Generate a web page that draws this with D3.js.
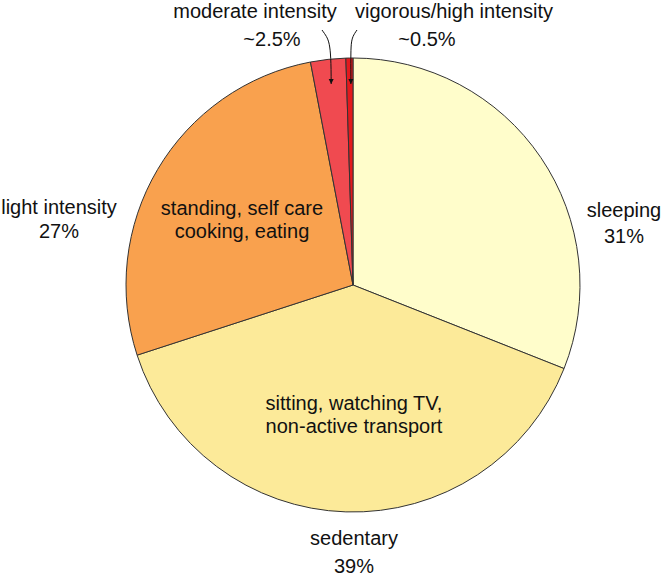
<!DOCTYPE html>
<html>
<head>
<meta charset="utf-8">
<script src="https://cdn.jsdelivr.net/npm/d3@7"></script>
<style>
  body { margin: 0; background: #fff; }
  text { font-family: "Liberation Sans", Arial, sans-serif; font-size: 20px; fill: #111; }
</style>
</head>
<body>
<svg id="chart"></svg>
<script>
(function () {
var categories = ['sleeping', 'sedentary', 'light intensity', 'moderate intensity', 'vigorous/high intensity']
var shares = [31, 39, 27, 2.5, 0.5]
var shareLabels = ['31%', '39%', '27%', '~2.5%', '~0.5%']
var colors = ['#fffdcb', '#fcea99', '#f9a14e', '#f04a50', '#e3191d']
var activities = [
    null,
    ['sitting, watching TV,', 'non-active transport'],
    ['standing, self care', 'cooking, eating'],
    null,
    null
]

var width = 663, height = 580
var cx = 353, cy = 285, r = 227

var svg = d3.select('#chart')
    .attr('width', width)
    .attr('height', height)

var pie = d3.pie().sort(null).value(d => d)
var arcs = pie(shares)
var arc = d3.arc().innerRadius(0).outerRadius(r)

var g = svg.append('g').attr('transform', 'translate(' + cx + ',' + cy + ')')

g.selectAll('path')
    .data(arcs)
    .enter()
    .append('path')
    .attr('d', arc)
    .attr('fill', (d, i) => colors[i])
    .attr('stroke', '#333')
    .attr('stroke-width', 1)

// outer labels, name on first line and share below
var outer = [
    {i: 0, x: 624, y: 217, y2: 243},
    {i: 1, x: 354, y: 545, y2: 573},
    {i: 2, x: 59, y: 214, y2: 238},
    {i: 3, x: 255, y: 18, y2: 46, x2: 272},
    {i: 4, x: 454, y: 18, y2: 46, x2: 427}
]
outer.forEach(function (o) {
    svg.append('text')
        .attr('x', o.x).attr('y', o.y)
        .attr('text-anchor', 'middle')
        .text(categories[o.i])
    svg.append('text')
        .attr('x', o.x2 || o.x).attr('y', o.y2)
        .attr('text-anchor', 'middle')
        .text(shareLabels[o.i])
})

// activity text inside the slices
var inner = [
    {i: 1, x: 354, y: 410},
    {i: 2, x: 242, y: 215}
]
inner.forEach(function (o) {
    activities[o.i].forEach(function (line, k) {
        svg.append('text')
            .attr('x', o.x).attr('y', o.y + k * 23)
            .attr('text-anchor', 'middle')
            .text(line)
    })
})

// arrows to the two thin slices
svg.append('defs').append('marker')
    .attr('id', 'head')
    .attr('viewBox', '0 0 10 10')
    .attr('refX', 10).attr('refY', 5)
    .attr('markerWidth', 5).attr('markerHeight', 7)
    .attr('markerUnits', 'userSpaceOnUse')
    .attr('orient', 'auto')
    .append('path')
    .attr('d', 'M0,0 L10,5 L0,10 z')
    .attr('fill', '#111')

var midAngle = d => (d.startAngle + d.endAngle) / 2
var arrows = [
    {i: 3, from: [322, 30], bend: [329, 40]},
    {i: 4, from: [357, 30], bend: [350, 40]}
]
arrows.forEach(function (a) {
    var d = arcs[a.i]
    var ang = midAngle(d)
    var tx = cx + Math.sin(ang) * (r - 28)
    if (a.i == 4) tx += 1
    var ty = cy - (r - 26)
    var p = d3.path()
    p.moveTo(a.from[0], a.from[1])
    p.bezierCurveTo(a.bend[0], a.bend[1], tx, a.bend[1], tx, ty)
    svg.append('path')
        .attr('d', p.toString())
        .attr('fill', 'none')
        .attr('stroke', '#111')
        .attr('stroke-width', 1)
        .attr('marker-end', 'url(#head)')
})
})();
</script>
</body>
</html>
